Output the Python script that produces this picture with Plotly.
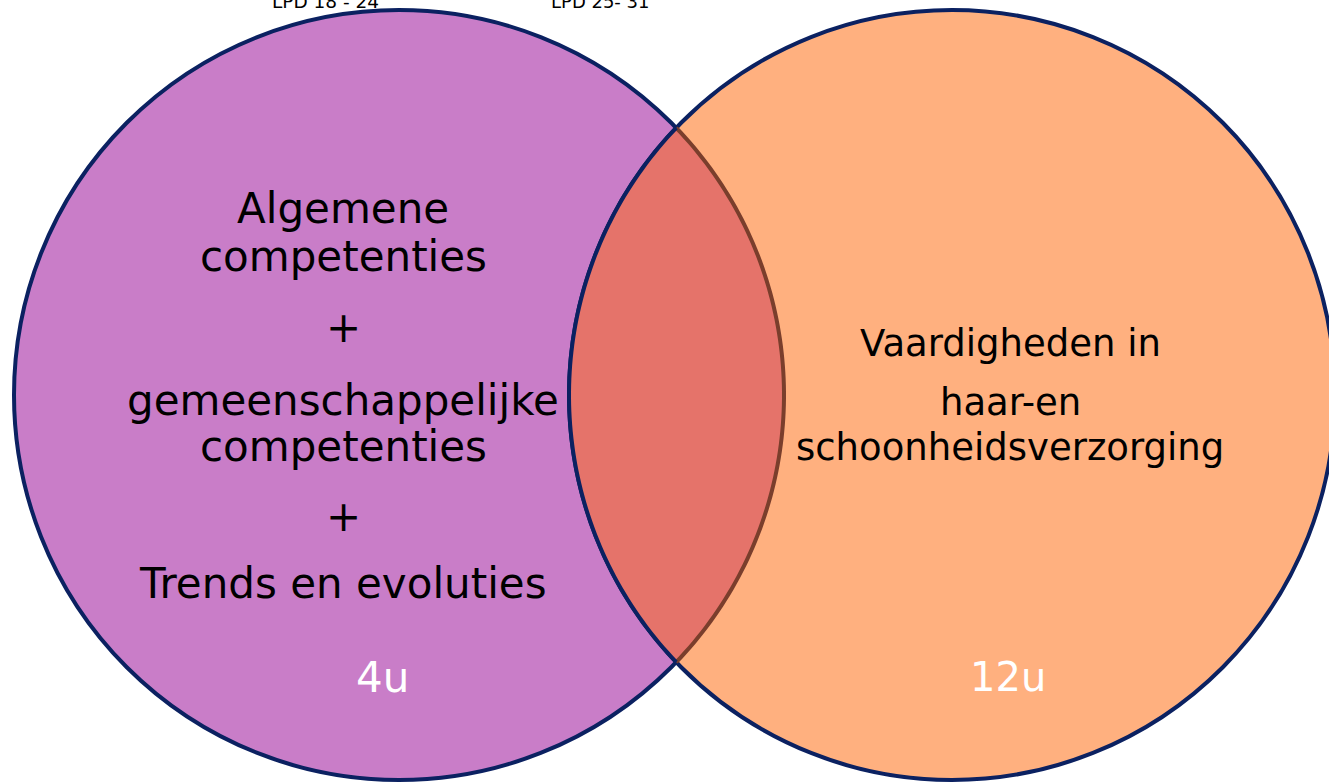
import numpy as np
import plotly.graph_objects as go

W, H = 1329, 782

# --- content ---
top_labels = ["LPD 18 - 24", "LPD 25- 31"]
left_lines = ["Algemene", "competenties", "+", "gemeenschappelijke", "competenties", "+", "Trends en evoluties"]
right_lines = ["Vaardigheden in", "haar-en", "schoonheidsverzorging"]
hours = ["4u", "12u"]

# --- geometry (pixel space) ---
cy = 395
cxL, rL = 399, 385
cxR, rxR, ryR = 952, 383, 385
PURPLE, ORANGE, LENS, NAVY, BROWN = "#C97DC8", "#FFB07F", "#E5736A", "#0B2161", "#7A3E2C"

# intersection: find angle t on right ellipse (left side) where it meets left circle
ts = np.linspace(np.pi / 2, np.pi, 20001)
ex, ey = cxR + rxR * np.cos(ts), cy + ryR * np.sin(ts)
f = (ex - cxL) ** 2 + (ey - cy) ** 2 - rL**2
i = np.argmin(np.abs(f))
tI = ts[i]
xi, yi = ex[i], ey[i]
hh = yi - cy
aL = np.arctan2(hh, xi - cxL)

def path(xs, ys, close=False):
    s = "M " + " L ".join(f"{x:.2f},{y:.2f}" for x, y in zip(xs, ys))
    return s + (" Z" if close else "")

t1 = np.linspace(-aL, aL, 90)
xl, yl = cxL + rL * np.cos(t1), cy + rL * np.sin(t1)          # lens right boundary
t2 = np.linspace(tI, 2 * np.pi - tI, 90)
xr, yr = cxR + rxR * np.cos(t2), cy + ryR * np.sin(t2)        # lens left boundary

LW = 4
shapes = [
    dict(type="circle", xref="x", yref="y", x0=cxL - rL, x1=cxL + rL, y0=cy - rL, y1=cy + rL,
         fillcolor=PURPLE, line=dict(color=NAVY, width=LW), layer="above"),
    dict(type="circle", xref="x", yref="y", x0=cxR - rxR, x1=cxR + rxR, y0=cy - ryR, y1=cy + ryR,
         fillcolor=ORANGE, line=dict(color=NAVY, width=LW), layer="above"),
    dict(type="path", xref="x", yref="y", path=path(np.r_[xl, xr], np.r_[yl, yr], True),
         fillcolor=LENS, line=dict(width=0), layer="above"),
    dict(type="path", xref="x", yref="y", path=path(xl, yl), line=dict(color=BROWN, width=LW), layer="above"),
    dict(type="path", xref="x", yref="y", path=path(xr, yr), line=dict(color=NAVY, width=LW), layer="above"),
]

FONT = "DejaVu Sans"
ann = []
for txt, x, s in zip(top_labels, [325, 600], [18.5, 18]):
    ann.append(dict(x=x, y=1.5, text=txt, showarrow=False, xanchor="center", yanchor="middle",
                    font=dict(family=FONT, size=s, color="black")))
for txt, y in zip(left_lines, [208, 256, 327, 400, 446, 516, 583]):
    ann.append(dict(x=343, y=y, text=txt, showarrow=False, xanchor="center", yanchor="middle",
                    font=dict(family=FONT, size=42, color="black")))
for txt, y in zip(right_lines, [343, 402, 447]):
    ann.append(dict(x=1010, y=y, text=txt, showarrow=False, xanchor="center", yanchor="middle",
                    font=dict(family=FONT, size=37, color="black")))
for txt, x, s in zip(hours, [382, 1008], [42, 40]):
    ann.append(dict(x=x, y=677, text=txt, showarrow=False, xanchor="center", yanchor="middle",
                    font=dict(family=FONT, size=s, color="white")))

fig = go.Figure()
fig.update_layout(
    width=W, height=H, margin=dict(l=0, r=0, t=0, b=0),
    paper_bgcolor="white", plot_bgcolor="white",
    xaxis=dict(range=[0, W], visible=False, fixedrange=True),
    yaxis=dict(range=[H, 0], visible=False, fixedrange=True),
    shapes=shapes, annotations=ann, showlegend=False,
)
fig.write_html("out.html", config={"displayModeBar": False},
               post_script="document.body.style.margin='0';document.body.style.overflow='hidden';")
